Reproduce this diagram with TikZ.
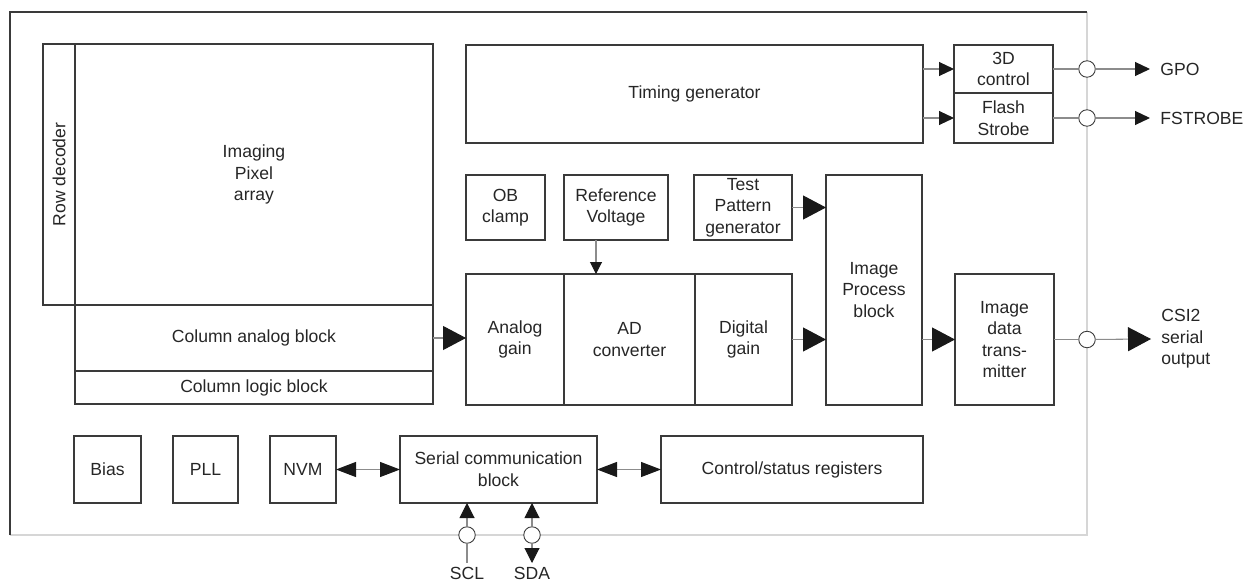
\documentclass[tikz,border=0pt]{standalone}
\usepackage{fontspec}
\setmainfont{Liberation Sans}
\usetikzlibrary{arrows.meta,positioning}

\definecolor{edgegray}{HTML}{3A3A3A}
\definecolor{wiregray}{HTML}{8C8C8C}
\definecolor{shadegray}{HTML}{D6D6D6}

\begin{document}
\begin{tikzpicture}
[
  x=0.2mm, y=-0.2mm,
  font=\fontsize{10}{12.3}\selectfont,
  blk/.style={rectangle, draw=edgegray, line width=0.6pt, inner sep=0pt, outer sep=0pt, anchor=north west, align=center, text=black!85},
  wd/.style={minimum width=#1*0.2mm},
  ht/.style={minimum height=#1*0.2mm},
  port/.style={circle, draw=edgegray, line width=0.5pt, fill=white, minimum size=3.3mm, inner sep=0pt},
  pinlabel/.style={inner sep=2mm, text=black!85},
  wire/.style={draw=wiregray, line width=0.6pt},
  bigtip/.style={-{Triangle[length=4.6mm,width=4.8mm,color=black!90]}},
  smalltip/.style={-{Triangle[length=3mm,width=2.8mm,color=black!90]}},
  reftip/.style={-{Triangle[length=2.4mm,width=2.4mm,color=black!90]}},
  iotip/.style={-{Triangle[length=3mm,width=3mm,color=black!90]}},
  bustip/.style={{Triangle[length=4mm,width=3mm,color=black!90]}-{Triangle[length=4mm,width=3mm,color=black!90]}}
]
 \useasboundingbox (0,0) rectangle (1250,584);

 % chip outline
 \coordinate (chipnw) at (10,12);
 \coordinate (chipse) at (1087,535);
 \draw[shadegray, line width=0.7pt] (chipnw -| chipse) -- (chipse) -- (chipse -| chipnw);
 \draw[edgegray, line width=0.7pt] (chipse -| chipnw) -- (chipnw) -- (chipnw -| chipse);

 % sensor array
 \node[blk,wd=32,ht=261] (rowdec) at (43,44) {};
 \node[rotate=90, text=black!85] (rowdectext) at (rowdec.center) {Row decoder};
 \node[blk,wd=358,ht=261] (pixarr) at (75,44) {Imaging\\Pixel\\array};
 \node[blk,wd=358,ht=66] (colana) at (75,305) {Column analog block};
 \node[blk,wd=358,ht=33,anchor=north] (collog) [below=0pt of colana] {Column logic block};

 % timing
 \node[blk,wd=457,ht=98] (timing) at (466,45) {Timing generator};
 \node[blk,wd=99,ht=48] (tdc) at (954,45) {3D\\control};
 \node[blk,wd=99,ht=50,anchor=north] (flash) [below=0pt of tdc] {Flash\\Strobe};

 % signal chain
 \node[blk,wd=79,ht=65] (obc) at (466,175) {OB\\clamp};
 \node[blk,wd=104,ht=65] (refv) at (564,175) {Reference\\Voltage};
 \node[blk,wd=98,ht=65] (tpg) at (694,175) {Test\\Pattern\\generator};
 \node[blk,wd=96,ht=230] (ipb) at (826,175) {Image\\Process\\block};
 \node[blk,wd=98,ht=131] (again) at (466,274) {Analog\\gain};
 \node[blk,wd=131,ht=131,anchor=west] (adc) [right=0pt of again] {AD\\converter};
 \node[blk,wd=97,ht=131,anchor=west] (dgain) [right=0pt of adc] {Digital\\gain};
 \node[blk,wd=99,ht=131] (idt) at (955,274) {Image\\data\\trans-\\mitter};

 % control
 \node[blk,wd=67,ht=67] (bias) at (74,436) {Bias};
 \node[blk,wd=65,ht=67] (pll) at (173,436) {PLL};
 \node[blk,wd=66,ht=67] (nvm) at (270,436) {NVM};
 \node[blk,wd=197,ht=67] (scb) at (400,436) {Serial communication\\block};
 \node[blk,wd=262,ht=67] (csr) at (661,436) {Control/status registers};

 % pins
 \node[port] (gpoport) at (tdc.east -| chipse) {};
 \node[port] (fsport) at (flash.east -| chipse) {};
 \node[port] (csiport) at (idt.east -| chipse) {};
 \node[port] (sclport) at (467,535) {};
 \node[port] (sdaport) at (532,535) {};
 \node[pinlabel, anchor=west] (gpo) at (1150,69) {GPO};
 \node[pinlabel, anchor=west] (fstrobe) at (1150,118) {FSTROBE};
 \node[pinlabel, anchor=west, align=left] (csi) at (1151,339) {CSI2\\serial\\output};
 \node[pinlabel, inner sep=0.8mm, anchor=north] (scl) at (467,563) {SCL};
 \node[pinlabel, inner sep=0.8mm, anchor=north] (sda) at (532,563) {SDA};

  \path[wire]
    (colana.east) edge [bigtip] (colana.east -| again.west)
    (tdc.west -| timing.east) edge [smalltip] (tdc.west)
    (flash.west -| timing.east) edge [smalltip] (flash.west)
    (tdc.east) edge (gpoport)
    (gpoport) edge [smalltip] (gpo.west)
    (flash.east) edge (fsport)
    (fsport) edge [smalltip] (fstrobe.west)
    ([xshift=-4mm]refv.south) edge [reftip] ([xshift=-4mm]refv.south |- adc.north)
    (tpg.east) edge [bigtip] (tpg.east -| ipb.west)
    (dgain.east) edge [bigtip] (dgain.east -| ipb.west)
    (idt.west -| ipb.east) edge [bigtip] (idt.west)
    (idt.east) edge (csiport)
    (csiport) edge [bigtip] (csi.west)
    (nvm.east) edge [bustip] (scb.west)
    (scb.east) edge [bustip] (csr.west)
    (sclport) edge [iotip] (sclport |- scb.south)
    (sclport) edge (scl.north)
    (sdaport) edge [iotip] (sdaport |- scb.south)
    (sdaport) edge [iotip] (sda.north);
\end{tikzpicture}
\end{document}
